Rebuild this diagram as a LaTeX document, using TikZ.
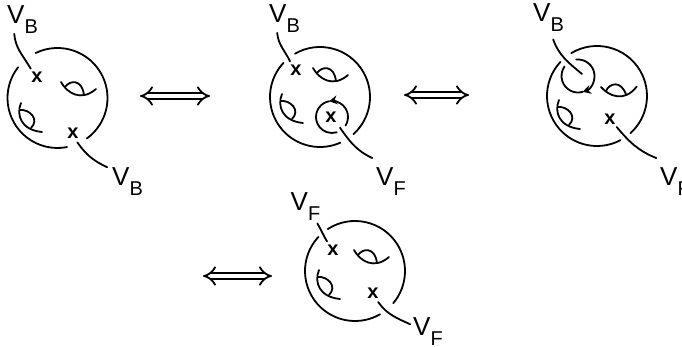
\documentclass[tikz,border=0pt]{standalone}
\usepackage{fontspec}
\setmainfont{Liberation Sans}
\usetikzlibrary{arrows.meta}

% one handle of the surface, upper right and lower left
\tikzset{
  holeright/.pic={
    \draw[curve] (0,0) .. controls (6,11) and (20,20) .. (35,7);
    \draw[curve] (4,5) .. controls (9,-2) and (21,-3) .. (23,13);
  },
  holeleft/.pic={
    \draw[curve] (0,0) .. controls (-5,12) and (0,27) .. (21,29);
    \draw[curve] (-1,7) .. controls (8,6) and (19,16) .. (10,25);
  }
}
\newcommand{\surface}[5]{%
  \draw[curve] ([shift={#1}]-#2:50) arc (-#2:-#3:50);
  \draw[curve] ([shift={#1}]-#4:50) arc (-#4:-#5:50);
}
\newcommand{\vname}[1]{V\raisebox{-5pt}{\fontsize{10}{10}\selectfont #1}}

\begin{document}
\begin{tikzpicture}[
  x=0.5pt, y=-0.5pt,
  font=\fontsize{13}{13}\selectfont,
  curve/.style={draw, line width=0.9pt, line cap=round},
  lead/.style={curve},
  looptip/.style={curve, -{Stealth[length=4pt,width=4.5pt]}},
  vlabel/.style={inner sep=0pt},
  xmark/.style={circle, inner sep=0pt, minimum size=10pt, font=\fontsize{10}{10}\selectfont\bfseries},
  equiv/.style={line width=0.9pt, double distance=2.4pt, {Implies[length=5pt,width=8pt]}-{Implies[length=5pt,width=8pt]}}
]
  \useasboundingbox (0,0) rectangle (682,347);
  \clip (0,0) rectangle (682,347);

  % first surface
  \surface{(57.5,98)}{116}{-54}{142}{281}
  \pic at (61,82) {holeright};
  \pic at (21,103) {holeleft};
  \node[xmark] (xa1) at (37,77) {x};
  \node[xmark] (xa2) at (73,133) {x};
  \node[vlabel] (va1) at (22.5,19.5) {\vname{B}};
  \node[vlabel, outer sep=2.5pt] (va2) at (127.5,182) {\vname{B}};
  \draw[lead] (va1.-120) to[out=-85,in=120] (xa1.127);
  \draw[lead] (xa2.-65) to[out=-55,in=155] (va2.144);

  % second surface
  \surface{(320,97)}{120}{-48}{137}{294}
  \pic at (313,68) {holeright};
  \pic at (282,94) {holeleft};
  \draw[looptip] ([shift={(332,117)}]32:16) arc (32:-100:16);
  \draw[curve] ([shift={(332,117)}]-100:16) arc (-100:-287:16);
  \node[xmark] (xb1) at (296,70) {x};
  \node[xmark, outer sep=2pt] (xb2) at (331,117) {x};
  \node[vlabel] (vb1) at (284.5,18.5) {\vname{B}};
  \node[vlabel, outer sep=5pt] (vb2) at (391,182) {\vname{F}};
  \draw[lead] (vb1.-117) to[out=-85,in=115] (xb1.125);
  \draw[lead] (xb2.-50) to[out=-55,in=155] (vb2.128);

  % third surface
  \surface{(597,96)}{121}{-48}{137}{298}
  \pic[rotate=12] at (601,87) {holeright};
  \pic at (559,100) {holeleft};
  \draw[looptip] ([shift={(578,76)}]-96:16.5) arc (-96:73:16.5);
  \draw[curve] ([shift={(578,76)}]73:16.5) arc (73:215:16.5);
  \coordinate (cc1) at (582,74);
  \node[xmark] (xc2) at (610,119) {x};
  \node[vlabel, outer sep=4pt] (vc1) at (548.5,17.5) {\vname{B}};
  \node[vlabel, outer sep=5pt] (vc2) at (675,182) {\vname{F}};
  \draw[lead] (vc1.-78) to[out=-70,in=140] (cc1);
  \draw[lead] (xc2.-50) to[out=-50,in=158] (vc2.128);

  % fourth surface
  \surface{(355,271)}{123}{-40}{137}{300}
  \pic at (354,250) {holeright};
  \pic at (319,270) {holeleft};
  \node[xmark] (xd1) at (333,250) {x};
  \node[xmark] (xd2) at (373,293) {x};
  \node[vlabel, outer sep=1.5pt] (vd1) at (305.5,206.5) {\vname{F}};
  \node[vlabel, outer sep=1.5pt] (vd2) at (428,331.5) {\vname{F}};
  \draw[lead] (vd1.-55) to[out=-60,in=120] (xd1.125);
  \draw[lead] (xd2.-60) to[out=-55,in=155] (vd2.158);

  % the equivalence signs
  \coordinate (ea1) at (140,96);
  \coordinate (ea2) at (210,96);
  \coordinate (eb1) at (404,95);
  \coordinate (eb2) at (469,95);
  \coordinate (ec1) at (203,276);
  \coordinate (ec2) at (272,276);
  \draw[equiv] (ea1) -- (ea2);
  \draw[equiv] (eb1) -- (eb2);
  \draw[equiv] (ec1) -- (ec2);
\end{tikzpicture}
\end{document}
